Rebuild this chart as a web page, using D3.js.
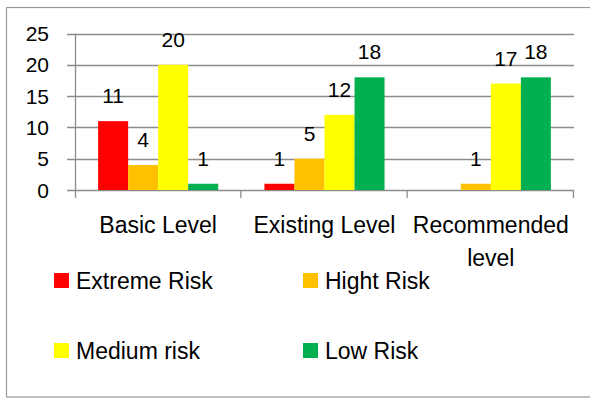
<!DOCTYPE html>
<html>
<head>
<meta charset="utf-8">
<script src="https://cdn.jsdelivr.net/npm/d3@7"></script>
<style>
  html, body { margin: 0; padding: 0; background: #fff; }
  svg { display: block; font-family: "Liberation Sans", Arial, sans-serif; }
</style>
</head>
<body>
<svg id="chart" width="590" height="399"></svg>
<script>
// Risk counts per assessment level
const categories = ["Basic Level", "Existing Level", "Recommended level"];
const seriesNames = ["Extreme Risk", "Hight Risk", "Medium risk", "Low Risk"];
const extremeRisk = [11, 1, null];
const highRisk = [4, 5, 1];
const mediumRisk = [20, 12, 17];
const lowRisk = [1, 18, 18];
const yTicks = [0, 5, 10, 15, 20, 25];

const seriesValues = [extremeRisk, highRisk, mediumRisk, lowRisk];
const colors = ["#FF0000", "#FFC000", "#FFFF00", "#00B050"];

const svg = d3.select("#chart");
const gridColor = "#8c8c8c";

// outer frame (open on the right)
svg.append("rect")
  .attr("x", 6.5).attr("y", 7.5)
  .attr("width", 600).attr("height", 389.5)
  .attr("fill", "none").attr("stroke", "#9a9a9a").attr("stroke-width", 1.2);

const plot = { left: 75, right: 574, top: 33.5, bottom: 190 };

const x = d3.scaleBand().domain(categories).range([plot.left, plot.right]).padding(0);
const xs = d3.scaleBand().domain(seriesNames).range([0, x.bandwidth()])
  .paddingInner(0).paddingOuter(0.77);
const y = d3.scaleLinear().domain([0, 25]).range([plot.bottom, plot.top]);

// horizontal gridlines with left tick stubs
svg.append("g").selectAll("line").data(yTicks).join("line")
  .attr("x1", plot.left - 8).attr("x2", plot.right)
  .attr("y1", d => Math.round(y(d)) + 0.5).attr("y2", d => Math.round(y(d)) + 0.5)
  .attr("stroke", gridColor).attr("stroke-width", 1.3);

// y tick labels
svg.append("g").selectAll("text").data(yTicks).join("text")
  .attr("x", 49).attr("y", d => y(d) + 7.5)
  .attr("text-anchor", "end")
  .attr("font-size", 21).attr("fill", "#000")
  .text(d => d);

// bars
const barData = [];
categories.forEach((c, i) => {
  seriesNames.forEach((s, j) => {
    const v = seriesValues[j][i];
    if (v != null) barData.push({ c, s, v, color: colors[j] });
  });
});

svg.append("g").selectAll("rect").data(barData).join("rect")
  .attr("x", d => x(d.c) + xs(d.s))
  .attr("y", d => y(d.v))
  .attr("width", xs.bandwidth())
  .attr("height", d => y(0) - y(d.v))
  .attr("fill", d => d.color);

// value labels
svg.append("g").selectAll("text").data(barData).join("text")
  .attr("x", d => x(d.c) + xs(d.s) + xs.bandwidth() / 2)
  .attr("y", d => y(d.v) - 18)
  .attr("text-anchor", "middle")
  .attr("font-size", 21).attr("fill", "#000")
  .text(d => d.v);

// axes lines
svg.append("line")
  .attr("x1", plot.left + 0.5).attr("x2", plot.left + 0.5)
  .attr("y1", plot.top).attr("y2", plot.bottom + 8)
  .attr("stroke", gridColor).attr("stroke-width", 1.3);
const boundaries = categories.map(c => x(c)).concat([plot.right]);
svg.append("g").selectAll("line").data(boundaries.slice(1)).join("line")
  .attr("x1", d => d - 0.5).attr("x2", d => d - 0.5)
  .attr("y1", plot.bottom).attr("y2", plot.bottom + 8)
  .attr("stroke", gridColor).attr("stroke-width", 1.3);

// category labels, wrapped to the band width
const catText = svg.append("g").selectAll("text").data(categories).join("text")
  .attr("x", d => x(d) + x.bandwidth() / 2)
  .attr("y", 233)
  .attr("text-anchor", "middle")
  .attr("font-size", 23).attr("fill", "#000");

catText.each(function (d) {
  const t = d3.select(this);
  const words = d.split(" ");
  let line = [];
  let tspan = t.append("tspan").attr("x", x(d) + x.bandwidth() / 2).attr("dy", 0);
  words.forEach(w => {
    line.push(w);
    tspan.text(line.join(" "));
    if (tspan.node().getComputedTextLength() > x.bandwidth() - 4 && line.length > 1) {
      line.pop();
      tspan.text(line.join(" "));
      line = [w];
      tspan = t.append("tspan").attr("x", x(d) + x.bandwidth() / 2).attr("dy", 33).text(w);
    }
  });
});

// legend: two columns, two rows
const legendPos = [
  { x: 54, y: 289 }, { x: 303, y: 289 },
  { x: 54, y: 359 }, { x: 303, y: 359 }
];
const legend = svg.append("g").selectAll("g").data(seriesNames).join("g")
  .attr("transform", (d, i) => `translate(${legendPos[i].x},${legendPos[i].y})`);
legend.append("rect")
  .attr("x", 0).attr("y", -16).attr("width", 15).attr("height", 15)
  .attr("fill", (d, i) => colors[i]);
legend.append("text")
  .attr("x", 22).attr("y", 0)
  .attr("font-size", 23).attr("fill", "#000")
  .text(d => d);
</script>
</body>
</html>
